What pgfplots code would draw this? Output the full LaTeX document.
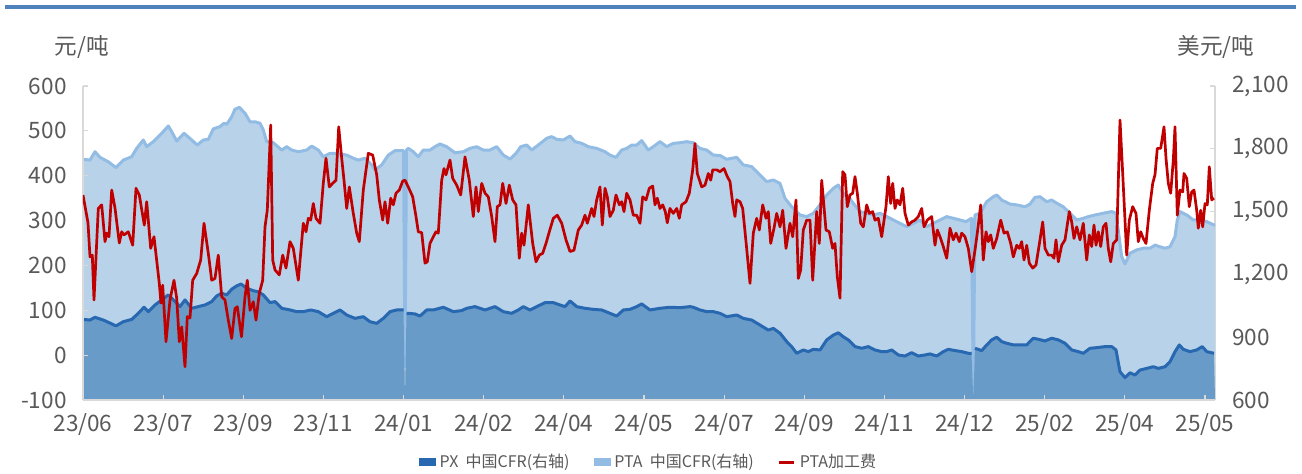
\documentclass[border=0pt]{standalone}
\usepackage{fontspec}
\setmainfont{Noto Sans CJK SC}
\usepackage{pgfplots}
\usepackage{pgfplotstable}
\pgfplotsset{compat=1.18}

\definecolor{pxfill}{RGB}{104,155,200}
\definecolor{pxline}{RGB}{40,104,176}
\definecolor{ptafill}{RGB}{184,210,233}
\definecolor{ptaline}{RGB}{146,188,228}
\definecolor{feered}{RGB}{192,0,0}
\definecolor{topblue}{RGB}{79,129,189}
\definecolor{axisgray}{RGB}{217,217,217}
\definecolor{textgray}{RGB}{89,89,89}

% x = position along the time axis (one label step = 80.14)
% PTA China CFR, USD/t (right axis)
\pgfplotstableread{
x y
0 1750
7 1746
12 1786
17 1759
25.3 1738
33 1710
40.3 1746
48.7 1762
53.7 1802
60.3 1842
63.7 1810
70.3 1834
78.7 1874
85.3 1909
88.7 1882
93.7 1837
101 1874
108.7 1842
114.3 1818
120.3 1842
125.3 1845
130.3 1895
137 1906
141 1922
143.7 1917
148.7 1953
152 1989
156.3 1998
162 1970
167 1929
172 1929
177 1922
180.3 1890
183.7 1834
190.3 1829
198.7 1794
203.7 1810
208.7 1794
215.3 1786
223.7 1794
228.7 1813
235.3 1794
240.3 1762
247 1778
253.7 1778
263.7 1770
270.3 1755
275.3 1746
282 1755
288.7 1723
292 1699
298.7 1723
305.3 1770
312 1791
320.5 1791
322 758
323.5 1795
325.3 1802
330.3 1786
335.3 1762
340.3 1794
347 1794
352 1810
357 1823
363.7 1810
372 1781
380.3 1786
387 1802
393.7 1810
400.3 1794
407 1794
413.7 1810
420.3 1770
427 1751
433 1778
437.7 1810
443.7 1818
448.7 1794
455.3 1818
463.7 1850
468.7 1858
473.7 1845
480.3 1842
487 1861
492 1834
498.7 1826
505.3 1810
513.7 1802
522 1786
527 1770
533 1759
538.7 1794
543.7 1802
548.7 1818
553.7 1818
558.7 1839
565.3 1794
570.3 1810
577 1834
583.7 1810
590.3 1826
597 1829
603.7 1834
610.3 1829
617 1802
623.7 1794
630.3 1770
637 1768
643.7 1750
653.7 1759
660.3 1723
668.7 1715
677 1675
683.7 1643
690.3 1651
697 1635
702 1563
708.7 1523
717 1484
723.7 1476
730.3 1492
737 1532
743.7 1579
750.3 1611
755.3 1627
760.3 1587
765.3 1571
770.3 1540
777 1500
783.7 1492
790.3 1484
797 1492
803.7 1476
810.3 1460
817 1444
823.7 1428
830.3 1444
837 1460
843.7 1428
850.3 1444
857 1460
863.7 1476
870.3 1468
877 1460
883 1452
888.5 1468
890.3 638
892 1484
897 1492
903.7 1547
910.3 1571
913.7 1579
918.7 1555
927 1536
933.7 1532
942 1523
947 1536
952 1568
957 1571
963.7 1547
968.7 1555
973.7 1540
980.3 1523
987 1492
993.7 1460
1000.3 1468
1005.3 1476
1012 1484
1020.3 1492
1028.7 1500
1033 1492
1038.7 1285
1042 1250
1047 1301
1053.7 1317
1060.3 1325
1067 1325
1072 1340
1077 1332
1082 1325
1087 1332
1090.3 1364
1092 1380
1094.3 1460
1097 1500
1103.7 1484
1110.3 1460
1117 1460
1123.7 1452
1131 1436
1132 1436
}\ptadata

% PX China CFR, USD/t (right axis)
\pgfplotstableread{
x y
0 985
7 982
12 995
20.3 982
26.3 969
33 954
40.3 974
48.7 985
55.3 1014
61 1043
65.3 1022
72 1054
78.7 1078
85.3 1102
92 1070
97 1046
102 1078
108.7 1038
115.3 1046
122 1054
128.7 1070
133.7 1097
138.7 1110
143.7 1102
148.7 1129
153.7 1145
158 1154
163.7 1134
170.3 1122
175.3 1117
180.3 1102
187 1065
192 1070
198.7 1038
207 1030
213.7 1022
220.3 1022
227.7 1030
235.3 1022
243.7 998
250.3 1014
257 1030
263.7 1006
272 990
280.3 998
287 974
293.7 966
300.3 990
307 1022
313.7 1030
320.5 1030
322 600
323.5 1014
325.3 1014
332 1011
337 1001
343.7 1030
350.3 1030
360.3 1043
370.3 1022
378.7 1027
383.7 1038
392 1046
402 1030
412 1046
420.3 1022
428.7 1014
435.3 1030
440.3 1046
447 1030
453.7 1046
462 1065
470.3 1065
477 1054
482 1046
487 1073
493.7 1046
502 1038
510.3 1033
518.7 1030
527 1014
533.7 1001
540.3 1030
547 1033
553.7 1046
558.7 1059
567 1030
577 1038
587 1043
597 1041
607 1046
610.3 1043
617 1030
623.7 1022
630.3 1022
637 1014
643.7 998
653.7 1006
660.3 990
668.7 982
677 958
685.3 934
690.3 942
697 919
703.7 879
708.7 855
713.7 823
720.3 839
725.3 831
730.3 842
737 839
743.7 887
750.3 910
755.3 921
760.3 902
765.3 887
772 855
778.7 847
785.3 855
792 839
798.7 831
803.7 831
808.7 839
815.3 815
822 810
828.7 826
835.3 810
842 815
847 820
853.7 810
860.3 831
865.3 842
872 836
878.7 831
885.3 823
888.5 823
890.3 600
892 847
898.7 836
903.7 863
908.7 887
913.7 900
918.7 879
923.7 871
930.3 863
937 863
943.7 863
950.3 895
955.3 890
962 882
968.7 895
975.3 887
982 871
988.7 839
995.3 831
1000.3 823
1007 847
1013.7 850
1022 855
1028.7 855
1033 839
1037 735
1042 707
1047 730
1052 719
1057 743
1063.7 751
1070.3 759
1075.3 751
1082 759
1087 783
1092 831
1096.3 863
1100.3 842
1107 831
1113.7 839
1119.3 855
1123.7 831
1131 823
1132 600
}\pxdata

% PTA processing fee, CNY/t (left axis)
\pgfplotstableread{
x y
0 357
5 295
7 219
9.3 223
11 123
15.3 327
18.7 335
22 253
23.7 272
26 264
28.7 368
32 328
36.3 250
38.7 275
41 268
45.3 275
49.7 245
53 372
56.3 357
61.3 290
63.7 342
67.7 238
71 264
76.3 160
78 116
79.7 156
83 30
87 123
91 167
93.7 127
96.3 30
98.7 63
102 -26
104.3 86
107 83
109.7 167
113.7 182
117.7 212
121 294
125.3 227
128.7 167
132 171
135.3 223
138.7 130
142 123
145.3 78
148.7 37
152 104
154.3 108
158.5 41
162 130
164.3 167
167 100
170.3 119
173 78
176.3 138
179.7 167
182 286
184.3 323
187.7 513
189.7 212
192 190
196.3 179
199.7 223
203 194
207 253
210.3 238
215.3 167
220.3 294
223 275
225.3 305
227.7 301
230.3 338
233 305
237 294
240.3 383
243 439
246.3 375
249.7 383
253 390
255.7 509
258.7 439
261 390
263.7 327
266.3 375
270.3 316
273.7 272
276.3 253
280.3 368
285.3 450
289.7 446
293.7 402
296.3 346
299.7 301
302 342
304.7 294
307.7 350
310.3 335
313 361
316.3 368
319.7 388
322 390
325.3 375
329.7 353
333 309
335.3 275
338.7 273
342 205
344.3 208
347 249
350.3 264
353 275
355.3 272
358.7 390
361 416
363 402
367 435
369.7 394
373.7 379
377.7 357
382 442
386.3 390
390.3 309
393 375
395.3 320
398.7 383
402 361
405.3 353
408.7 309
412 253
414.3 331
417 335
419.7 383
423 338
426.3 379
429.7 346
433 335
436.3 216
438.7 272
441 245
445.3 335
449.7 249
453 208
456.3 223
459.7 227
463 249
466.3 275
470.3 305
474.3 312
478.7 294
483 257
487 231
491 234
495.3 279
498.7 290
502 312
504.3 294
508.7 327
511 309
513.7 346
517 375
519.3 290
522 372
524.3 353
527 309
530.3 323
533 357
536.3 335
538.7 342
541 320
543.7 361
547 346
550.3 312
553.7 312
557 294
559.7 353
563 346
566.3 372
569.7 377
572 335
574.3 350
577 327
579.7 335
582.3 320
584.3 295
587 327
590.3 316
593.7 327
596.3 305
598.7 335
603 342
606.3 361
609.7 413
612 472
614.3 405
618.7 375
622 379
625.3 405
627.7 390
629.7 413
633.7 413
637 409
641 416
644.3 398
647 387
649.7 338
652 309
653.7 346
657 342
659.7 327
663 253
667 160
670.3 272
673.7 305
676.3 279
679.7 335
683 305
685.3 320
687.7 249
691 283
693.7 316
697 286
699.7 323
703 238
707 294
709.7 264
713 346
715.3 171
717.7 190
720.3 279
723.7 301
727 301
729.7 167
733.7 320
736.3 249
738.7 390
743 279
746.3 275
749.7 238
752 249
754.3 175
757 127
759.7 409
762 402
764.3 331
767 357
769.7 361
772 398
774.3 361
777.7 294
780.3 286
783.7 335
786.3 316
789.7 320
792 301
795.3 305
798.7 264
803 331
805.3 398
807.7 338
809.7 383
812 327
814.3 346
817 335
819.7 372
822 316
825.3 290
828.7 297
832 301
835.3 309
838.7 327
841 286
844.3 301
848.7 309
852 245
854.3 279
857 264
860.3 242
863.7 216
867 283
870.3 257
873 272
876.3 253
878.7 272
882 264
885.3 238
888.7 186
892 234
894.7 279
897.7 335
900.3 212
903 275
905.3 253
907.7 268
910.3 238
913.7 260
917.7 301
921 272
924.3 275
927.7 249
930.3 219
933.7 245
936.3 238
938.7 253
941 212
943.7 245
946.3 205
949.7 194
953 201
956.5 250
959.7 297
962 238
965.3 223
968.7 223
971 216
973 257
975.3 208
978.7 245
982 257
986.3 320
988.7 297
991 260
993.7 286
997 257
1000.3 294
1003.7 212
1006.3 268
1008.7 242
1011 290
1013 245
1015.3 275
1017.7 242
1020.3 286
1023 294
1025.3 238
1027.7 208
1030.3 249
1033.7 257
1037 524
1039.7 405
1042 301
1043.7 223
1046.3 301
1049.7 331
1053 316
1055.3 253
1057.7 275
1060.3 260
1063 249
1066.3 323
1069.7 383
1072 402
1074.3 461
1077.7 461
1081 509
1083 439
1085.3 383
1087.7 361
1090.3 435
1092 509
1094.3 312
1097 368
1099.7 364
1101 405
1103.7 394
1106.3 331
1108.7 364
1111 368
1113.7 323
1115.3 283
1117.7 323
1119.7 286
1122 338
1124.3 335
1126.3 420
1128.7 346
1131 350
}\feedata

\pgfplotsset{
  twin/.style={
    at={(41.5pt,37pt)}, anchor=south west,
    scale only axis, width=566pt, height=157pt,
    xmin=0, xmax=1132,
    axis line style={axisgray, line width=0.6pt, -},
    tick align=inside, major tick length=2.5pt,
    tick style={axisgray, line width=0.6pt},
    ticklabel style={font=\fontsize{11.3}{13}\selectfont, text=textgray},
    /pgf/number format/assume math mode=true,
    /pgf/number format/1000 sep={,},
  }
}

\begin{document}
\begin{tikzpicture}
\path[use as bounding box] (0pt,0pt) rectangle (651pt,237pt);
\draw[topblue, line width=2pt] (2.5pt,233.5pt) -- (648pt,233.5pt);

% right axis: the two price areas
\begin{axis}[twin,
  axis x line=none, axis y line*=right,
  ymin=600, ymax=2100, ytick={600,900,1200,1500,1800,2100},
  yticklabel style={anchor=west, inner sep=0pt, xshift=8.5pt},
]
  \addplot[fill=ptafill, draw=none] table[x=x, y=y] {\ptadata} \closedcycle;
  \addplot[draw=ptaline, line width=1.5pt, line join=round] table[x=x, y=y] {\ptadata};
  \addplot[fill=pxfill, draw=none] table[x=x, y=y] {\pxdata} \closedcycle;
  \addplot[draw=pxline, line width=1.5pt, line join=round, unbounded coords=jump,
    y filter/.expression={y<601 ? nan : y}] table[x=x, y=y] {\pxdata};
\end{axis}

% left axis: processing fee
\begin{axis}[twin,
  axis y line*=left, axis x line*=bottom,
  ymin=-100, ymax=600, ytick={-100,0,100,200,300,400,500,600},
  yticklabel style={anchor=east, inner sep=0pt, xshift=-8pt},
  xtick={0,80.14,160.29,240.43,320.57,400.71,480.86,561,641.14,721.29,801.43,881.57,961.71,1041.86,1122},
  xticklabels={23/06,23/07,23/09,23/11,24/01,24/02,24/04,24/05,24/07,24/09,24/11,24/12,25/02,25/04,25/05},
  xticklabel style={anchor=base, inner sep=0pt, yshift=-16pt},
  legend style={at={(0.5004,-0.1975)}, anchor=center, draw=none, fill=none,
    font=\fontsize{8}{9}\selectfont, text=textgray,
    /tikz/every even column/.append style={column sep=10pt}},
  legend columns=3, legend cell align=left,
]
  \addlegendimage{legend image code/.code={\fill[pxline] (0pt,-1.75pt) rectangle (8pt,1.75pt);}}
  \addlegendentry{PX\ \ 中国CFR(右轴)}
  \addlegendimage{legend image code/.code={\fill[ptaline] (0pt,-1.75pt) rectangle (8pt,1.75pt);}}
  \addlegendentry{PTA\ \ 中国CFR(右轴)}
  \addplot[feered, line width=1.35pt, line join=round,
    legend image code/.code={\draw[feered, line width=1.5pt] (0pt,0pt) -- (7.5pt,0pt);}]
    table[x=x, y=y] {\feedata};
  \addlegendentry{PTA加工费}
\end{axis}

\node[text=textgray, font=\fontsize{11.3}{13}\selectfont] at (41pt,213.5pt) {元/吨};
\node[text=textgray, font=\fontsize{11.3}{13}\selectfont] at (608pt,213.5pt) {美元/吨};
\end{tikzpicture}
\end{document}
